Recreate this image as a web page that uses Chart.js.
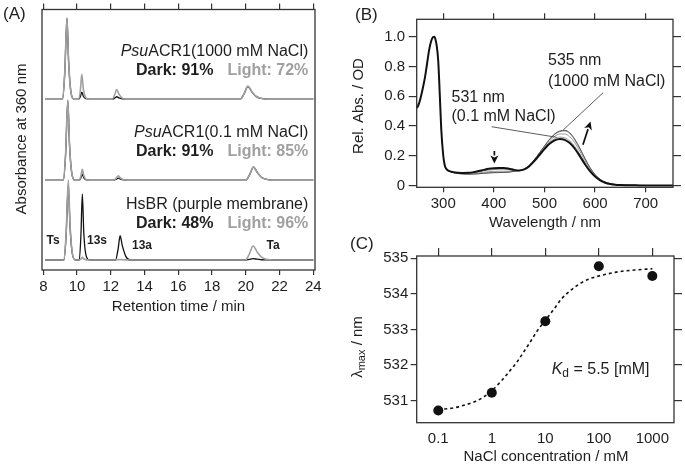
<!DOCTYPE html>
<html>
<head>
<meta charset="utf-8">
<script src="https://cdn.jsdelivr.net/npm/chart.js@4.4.1/dist/chart.umd.min.js"></script>
<style>
  body { margin: 0; background: #fff; }
  #wrap { position: relative; width: 685px; height: 465px; }
  #wrap canvas { position: absolute; left: 0; top: 0; width: 685px; height: 465px; }
</style>
</head>
<body>
<div id="wrap">
  <canvas id="chartA" width="685" height="465"></canvas>
  <canvas id="chartB" width="685" height="465"></canvas>
  <canvas id="chartC" width="685" height="465"></canvas>
</div>
<script>
// ---- (A) HPLC chromatograms: retention time (min) / relative absorbance ----
const retTicks = [8, 10, 12, 14, 16, 18, 20, 22, 24];
const traceOffsets = [65.6, 34.5, 3.84]; // 1000 mM, 0.1 mM, HsBR

const timeTop = [8.1, 9.14, 9.27, 9.40, 9.50, 9.64, 9.82, 10.10, 10.20, 10.28, 10.37, 10.52, 10.72, 12.08, 12.23, 12.35, 12.48, 12.68, 12.93, 19.67, 19.89, 20.12, 20.37, 20.62, 20.92, 21.32, 24.0];
const lightTop = [0, 0, 10.3, 31.2, 14.0, 2.5, 0, 0, 3.8, 9.5, 3.8, 0.5, 0, 0, 1.7, 3.7, 1.9, 0.4, 0, 0, 2.0, 5.0, 2.8, 1.0, 0.25, 0, 0];
const darkTop = [0, 0, 10.2, 31.0, 13.9, 2.5, 0, 0, 1.1, 2.7, 1.1, 0.15, 0, 0, 0.4, 0.9, 0.45, 0.1, 0, 0, 1.9, 4.8, 2.7, 0.95, 0.25, 0, 0];

const timeMid = [8.1, 9.19, 9.32, 9.45, 9.55, 9.69, 9.87, 10.13, 10.23, 10.31, 10.40, 10.55, 10.75, 12.17, 12.32, 12.44, 12.57, 12.77, 13.02, 20.0, 20.22, 20.45, 20.7, 20.95, 21.25, 21.65, 24.0];
const lightMid = [0, 0, 10.1, 30.7, 13.8, 2.5, 0, 0, 1.7, 4.2, 1.7, 0.2, 0, 0, 0.75, 1.65, 0.8, 0.17, 0, 0, 2.0, 5.1, 2.8, 1.0, 0.25, 0, 0];
const darkMid = [0, 0, 10.0, 30.5, 13.7, 2.4, 0, 0, 0.9, 2.3, 0.9, 0.1, 0, 0, 0.35, 0.8, 0.4, 0.08, 0, 0, 2.0, 5.0, 2.75, 1.0, 0.25, 0, 0];

const timeBot = [8.1, 9.22, 9.35, 9.48, 9.58, 9.72, 9.90, 10.13, 10.23, 10.31, 10.40, 10.55, 10.75, 12.28, 12.43, 12.55, 12.68, 12.88, 13.13, 19.98, 20.2, 20.43, 20.68, 20.93, 21.23, 21.63, 24.0];
const lightBot = [0, 0, 10.1, 30.7, 13.8, 2.5, 0, 0, 0.4, 1.0, 0.4, 0.05, 0, 0, 0.1, 0.2, 0.1, 0.03, 0, 0, 2.2, 5.4, 3.0, 1.1, 0.27, 0, 0];
const darkBot = [0, 0, 9.6, 29.0, 13.0, 2.3, 0, 0, 10.0, 25.3, 10.0, 1.3, 0, 0, 4.2, 9.3, 5.5, 1.5, 0, 0, 0.2, 0.5, 0.3, 0.1, 0.03, 0, 0];

// ---- (B) absorption spectra ----
const waveTicks = [300, 400, 500, 600, 700];
const absTicks = [0, 0.2, 0.4, 0.6, 0.8, 1.0];
const waveBlack = [248, 252, 256, 260, 264, 268, 272, 276, 280, 282, 284, 287, 290, 293, 296, 300, 303, 306, 310, 320, 330, 340, 350, 360, 370, 380, 390, 400, 410, 420, 430, 440, 450, 460, 470, 480, 490, 500, 510, 520, 530, 540, 550, 560, 570, 580, 590, 600, 610, 620, 630, 640, 650, 660, 680, 700, 754];
const abs01mM = [0.52, 0.55, 0.6, 0.66, 0.73, 0.82, 0.91, 0.97, 0.998, 1.0, 0.99, 0.94, 0.84, 0.62, 0.38, 0.2, 0.135, 0.112, 0.1, 0.09, 0.086, 0.084, 0.085, 0.09, 0.097, 0.105, 0.112, 0.116, 0.118, 0.118, 0.113, 0.105, 0.101, 0.108, 0.13, 0.165, 0.205, 0.245, 0.28, 0.303, 0.313, 0.307, 0.285, 0.247, 0.197, 0.143, 0.096, 0.06, 0.035, 0.019, 0.01, 0.005, 0.003, 0.002, 0.001, 0, 0];
const waveGray = [310, 320, 330, 340, 350, 360, 370, 380, 390, 400, 410, 420, 430, 440, 450, 460, 470, 480, 490, 500, 510, 520, 530, 540, 550, 560, 570, 580, 590, 600, 610, 620, 630, 640, 650, 660, 680, 700];
const abs1mM = [0.1, 0.088, 0.084, 0.082, 0.082, 0.086, 0.092, 0.099, 0.104, 0.107, 0.109, 0.109, 0.106, 0.102, 0.1, 0.108, 0.131, 0.167, 0.209, 0.251, 0.289, 0.314, 0.325, 0.321, 0.3, 0.262, 0.21, 0.153, 0.103, 0.064, 0.037, 0.02, 0.011, 0.006, 0.003, 0.002, 0.001, 0];
const abs10mM = [0.1, 0.087, 0.082, 0.08, 0.079, 0.081, 0.085, 0.089, 0.093, 0.095, 0.096, 0.096, 0.096, 0.098, 0.1, 0.109, 0.133, 0.171, 0.214, 0.258, 0.3, 0.33, 0.346, 0.346, 0.327, 0.287, 0.23, 0.168, 0.112, 0.068, 0.039, 0.021, 0.012, 0.006, 0.003, 0.002, 0.001, 0];
const abs100mM = [0.1, 0.086, 0.081, 0.078, 0.077, 0.078, 0.08, 0.083, 0.086, 0.088, 0.089, 0.089, 0.091, 0.095, 0.1, 0.11, 0.135, 0.174, 0.219, 0.265, 0.309, 0.343, 0.362, 0.366, 0.348, 0.305, 0.245, 0.178, 0.118, 0.072, 0.041, 0.022, 0.012, 0.006, 0.003, 0.002, 0.001, 0];
const abs1000mM = [0.1, 0.086, 0.08, 0.077, 0.076, 0.077, 0.079, 0.082, 0.084, 0.086, 0.087, 0.088, 0.09, 0.095, 0.1, 0.11, 0.135, 0.174, 0.219, 0.266, 0.311, 0.346, 0.366, 0.371, 0.354, 0.311, 0.25, 0.183, 0.121, 0.074, 0.042, 0.023, 0.013, 0.007, 0.003, 0.002, 0.001, 0];

// ---- (C) lambda max vs NaCl ----
const naclTicks = [0.1, 1, 10, 100, 1000];
const lmaxTicks = [531, 532, 533, 534, 535];
const naclConc = [0.1, 1, 10, 100, 1000];
const lambdaMax = [530.72, 531.22, 533.23, 534.77, 534.5];
const fitConc = [0.1, 0.2, 0.3, 0.5, 0.7, 1, 1.5, 2, 3, 4, 5, 7, 10, 15, 20, 30, 50, 70, 100, 200, 300, 500, 1000];
const fitLambda = [530.75, 530.8, 530.87, 530.98, 531.1, 531.28, 531.55, 531.77, 532.1, 532.38, 532.6, 532.95, 533.25, 533.6, 533.85, 534.1, 534.33, 534.43, 534.5, 534.6, 534.64, 534.67, 534.7];

const FAM = '"Liberation Sans", Arial, Helvetica, sans-serif';
const INK = '#1e1e1e';
const GRAY = '#a0a0a0';
Chart.defaults.font.family = FAM;
Chart.defaults.color = INK;

function font(size, style, weight) {
  return (style || '') + ' ' + (weight || '') + ' ' + size + 'px ' + FAM;
}

// draws a row of text pieces with different fonts
function runs(ctx, parts, x, y, align) {
  ctx.save();
  ctx.textBaseline = 'middle';
  ctx.textAlign = 'left';
  let total = 0;
  parts.forEach(p => {
    if (p.t) { ctx.font = p.f; p.w = ctx.measureText(p.t).width; } else { p.w = p.gap; }
    total += p.w;
  });
  let cx = align === 'right' ? x - total : align === 'center' ? x - total / 2 : x;
  parts.forEach(p => {
    if (p.t) {
      ctx.font = p.f;
      ctx.fillStyle = p.c || INK;
      ctx.fillText(p.t, cx, y + (p.dy || 0));
    }
    cx += p.w;
  });
  ctx.restore();
}

function vrun(ctx, parts, x, y) {
  ctx.save();
  ctx.translate(x, y);
  ctx.rotate(-Math.PI / 2);
  runs(ctx, parts, 0, 0, 'center');
  ctx.restore();
}

// axis with fixed box size (size) so that the plot frame lands where it should
function axisCfg(o) {
  return {
    type: o.type || 'linear',
    axis: o.axis,
    position: o.position,
    min: o.min,
    max: o.max,
    afterBuildTicks: s => { s.ticks = o.ticks.map(v => ({ value: v })); },
    afterFit: s => { if (o.axis === 'x') s.height = o.size; else s.width = o.size; },
    grid: { drawOnChartArea: false, drawTicks: o.tick > 0, tickLength: o.tick, color: '#333', lineWidth: 1.2 },
    border: { display: false },
    ticks: {
      display: !!o.labels,
      callback: o.labels || (v => v),
      padding: o.pad || 0,
      font: { size: 15 },
      color: INK,
      autoSkip: false,
      maxRotation: 0
    }
  };
}

const framePlugin = {
  id: 'frame',
  afterDatasetsDraw(chart) {
    const { ctx, chartArea: a } = chart;
    ctx.save();
    ctx.strokeStyle = '#333';
    ctx.lineWidth = 1.3;
    ctx.strokeRect(a.left, a.top, a.right - a.left, a.bottom - a.top);
    ctx.restore();
  }
};

function xy(xs, ys, off) {
  return xs.map((x, i) => ({ x: x, y: ys[i] + (off || 0) }));
}

function lineSet(data, color, width, order) {
  return {
    data: data, showLine: true, borderColor: color, borderWidth: width,
    pointRadius: 0, cubicInterpolationMode: 'monotone', order: order, fill: false
  };
}

const baseOpts = {
  responsive: false,
  animation: false,
  events: [],
  devicePixelRatio: 1,
  plugins: { legend: { display: false }, tooltip: { enabled: false } }
};

// ---------- (A) ----------
const textA = {
  id: 'textA',
  afterDraw(chart) {
    const ctx = chart.ctx;
    const b16 = font(16, '', 'bold');
    runs(ctx, [{ t: '(A)', f: font(17) }], 3, 14, 'left');
    runs(ctx, [{ t: 'Psu', f: font(16, 'italic') }, { t: 'ACR1(1000 mM NaCl)', f: font(16) }], 308.3, 52, 'right');
    runs(ctx, [{ t: 'Dark: 91%', f: b16 }, { gap: 14 }, { t: 'Light: 72%', f: b16, c: GRAY }], 308.3, 71, 'right');
    runs(ctx, [{ t: 'Psu', f: font(16, 'italic') }, { t: 'ACR1(0.1 mM NaCl)', f: font(16) }], 308.3, 133, 'right');
    runs(ctx, [{ t: 'Dark: 91%', f: b16 }, { gap: 14 }, { t: 'Light: 85%', f: b16, c: GRAY }], 308.3, 152, 'right');
    runs(ctx, [{ t: 'HsBR (purple membrane)', f: font(16) }], 308.3, 205, 'right');
    runs(ctx, [{ t: 'Dark: 48%', f: b16 }, { gap: 14 }, { t: 'Light: 96%', f: b16, c: GRAY }], 308.3, 224, 'right');
    const b12 = font(12, '', 'bold');
    runs(ctx, [{ t: 'Ts', f: b12 }], 53, 241, 'center');
    runs(ctx, [{ t: '13s', f: b12 }], 97, 241, 'center');
    runs(ctx, [{ t: '13a', f: b12 }], 142, 246, 'center');
    runs(ctx, [{ t: 'Ta', f: b12 }], 273, 246, 'center');
    runs(ctx, [{ t: 'Retention time / min', f: font(15) }], 178.5, 307, 'center');
    vrun(ctx, [{ t: 'Absorbance at 360 nm', f: font(15) }], 22, 139);
  }
};

new Chart(document.getElementById('chartA'), {
  type: 'scatter',
  data: {
    datasets: [
      lineSet(xy(timeTop, lightTop, traceOffsets[0]), GRAY, 1.6, 0),
      lineSet(xy(timeTop, darkTop, traceOffsets[0]), '#111', 1.3, 1),
      lineSet(xy(timeMid, lightMid, traceOffsets[1]), GRAY, 1.6, 0),
      lineSet(xy(timeMid, darkMid, traceOffsets[1]), '#111', 1.3, 1),
      lineSet(xy(timeBot, lightBot, traceOffsets[2]), GRAY, 1.6, 0),
      lineSet(xy(timeBot, darkBot, traceOffsets[2]), '#111', 1.3, 1)
    ]
  },
  options: Object.assign({}, baseOpts, {
    layout: { padding: { left: 42, top: 3.5, right: 370, bottom: 165 } },
    scales: {
      x: axisCfg({ axis: 'x', position: 'bottom', min: 7.92, max: 24.1, ticks: retTicks, size: 30, tick: 5, pad: 3, labels: v => v }),
      xTop: axisCfg({ axis: 'x', position: 'top', min: 7.92, max: 24.1, ticks: retTicks, size: 6, tick: 6 }),
      y: { display: false, min: 0, max: 100 }
    }
  }),
  plugins: [framePlugin, textA]
});

// ---------- (B) ----------
const textB = {
  id: 'textB',
  afterDraw(chart) {
    const ctx = chart.ctx;
    const sx = chart.scales.x, sy = chart.scales.y;
    const px = (w, a) => [sx.getPixelForValue(w), sy.getPixelForValue(a)];
    runs(ctx, [{ t: '(B)', f: font(17) }], 355, 15.5, 'left');
    runs(ctx, [{ t: '535 nm', f: font(16) }], 548, 61, 'left');
    runs(ctx, [{ t: '(1000 mM NaCl)', f: font(16) }], 548, 81.5, 'left');
    runs(ctx, [{ t: '531 nm', f: font(16) }], 451.5, 98, 'left');
    runs(ctx, [{ t: '(0.1 mM NaCl)', f: font(16) }], 451.5, 117, 'left');
    runs(ctx, [{ t: 'Wavelength / nm', f: font(15) }], 545, 223, 'center');
    vrun(ctx, [{ t: 'Rel. Abs. / OD', f: font(15) }], 359, 106);

    ctx.save();
    ctx.strokeStyle = '#333';
    ctx.lineWidth = 0.8;
    [[395.6, 0.395, 524, 0.324], [616, 0.624, 537, 0.373]].forEach(l => {
      const a = px(l[0], l[1]), b = px(l[2], l[3]);
      ctx.beginPath(); ctx.moveTo(a[0], a[1]); ctx.lineTo(b[0], b[1]); ctx.stroke();
    });
    // arrows
    ctx.strokeStyle = '#111';
    ctx.fillStyle = '#111';
    ctx.lineWidth = 1.7;
    [[401, 0.232, 401, 0.148], [576, 0.274, 591, 0.43]].forEach(l => {
      const a = px(l[0], l[1]), b = px(l[2], l[3]);
      const ang = Math.atan2(b[1] - a[1], b[0] - a[0]);
      const hl = 8, hw = 4;
      const bx = b[0] - hl * Math.cos(ang), by = b[1] - hl * Math.sin(ang);
      ctx.beginPath(); ctx.moveTo(a[0], a[1]); ctx.lineTo(bx, by); ctx.stroke();
      ctx.beginPath();
      ctx.moveTo(b[0], b[1]);
      ctx.lineTo(bx + hw * Math.sin(ang), by - hw * Math.cos(ang));
      ctx.lineTo(bx + 2 * Math.cos(ang), by + 2 * Math.sin(ang));
      ctx.lineTo(bx - hw * Math.sin(ang), by + hw * Math.cos(ang));
      ctx.closePath(); ctx.fill();
    });
    ctx.restore();
  }
};

new Chart(document.getElementById('chartB'), {
  type: 'scatter',
  data: {
    datasets: [
      lineSet(xy(waveBlack, abs01mM), '#111', 2, 0),
      lineSet(xy(waveGray, abs1000mM), '#555', 1, 1),
      lineSet(xy(waveGray, abs100mM), '#9a9a9a', 1, 2),
      lineSet(xy(waveGray, abs10mM), '#9a9a9a', 1, 2),
      lineSet(xy(waveGray, abs1mM), '#9a9a9a', 1, 2)
    ]
  },
  options: Object.assign({}, baseOpts, {
    layout: { padding: { left: 376.7, top: 13.3, right: 4, bottom: 247.7 } },
    scales: {
      x: axisCfg({ axis: 'x', position: 'bottom', min: 247.5, max: 754, ticks: waveTicks, size: 30, tick: 5, pad: 3, labels: v => v }),
      xTop: axisCfg({ axis: 'x', position: 'top', min: 247.5, max: 754, ticks: waveTicks, size: 6, tick: 6 }),
      y: axisCfg({ axis: 'y', position: 'left', min: -0.012, max: 1.117, ticks: absTicks, size: 40, tick: 8, pad: 3.7, labels: v => (v === 0 ? '0' : v.toFixed(1)) }),
      yRight: axisCfg({ axis: 'y', position: 'right', min: -0.012, max: 1.117, ticks: absTicks, size: 8, tick: 8 })
    }
  }),
  plugins: [framePlugin, textB]
});

// ---------- (C) ----------
const textC = {
  id: 'textC',
  afterDraw(chart) {
    const ctx = chart.ctx;
    runs(ctx, [{ t: '(C)', f: font(17) }], 350, 244.5, 'left');
    runs(ctx, [{ t: 'K', f: font(16, 'italic') }, { t: 'd', f: font(12), dy: 4 }, { t: ' = 5.5 [mM]', f: font(16) }], 551.7, 370, 'left');
    runs(ctx, [{ t: 'NaCl concentration / mM', f: font(15) }], 546, 457.3, 'center');
    vrun(ctx, [{ t: 'λ', f: font(15) }, { t: 'max', f: font(11), dy: 4 }, { t: ' / nm', f: font(15) }], 358, 347);
  }
};

new Chart(document.getElementById('chartC'), {
  type: 'scatter',
  data: {
    datasets: [
      {
        data: xy(naclConc, lambdaMax), pointRadius: 5, pointBackgroundColor: '#111',
        pointBorderColor: '#111', pointBorderWidth: 0, showLine: false, order: 0
      },
      Object.assign(lineSet(xy(fitConc, fitLambda), '#111', 1.6, 1), { borderDash: [3, 3] })
    ]
  },
  options: Object.assign({}, baseOpts, {
    layout: { padding: { left: 376.7, top: 248, right: 3, bottom: 12.3 } },
    scales: {
      x: axisCfg({ type: 'logarithmic', axis: 'x', position: 'bottom', min: 0.0395, max: 2540, ticks: naclTicks, size: 30, tick: 0, pad: 7.6, labels: v => String(v) }),
      xTop: axisCfg({ type: 'logarithmic', axis: 'x', position: 'top', min: 0.0395, max: 2540, ticks: naclTicks, size: 8, tick: 8 }),
      y: axisCfg({ axis: 'y', position: 'left', min: 530.38, max: 535.06, ticks: lmaxTicks, size: 40, tick: 6, pad: 2.4, labels: v => String(v) }),
      yRight: axisCfg({ axis: 'y', position: 'right', min: 530.38, max: 535.06, ticks: lmaxTicks, size: 8, tick: 8 })
    }
  }),
  plugins: [framePlugin, textC]
});
</script>
</body>
</html>
